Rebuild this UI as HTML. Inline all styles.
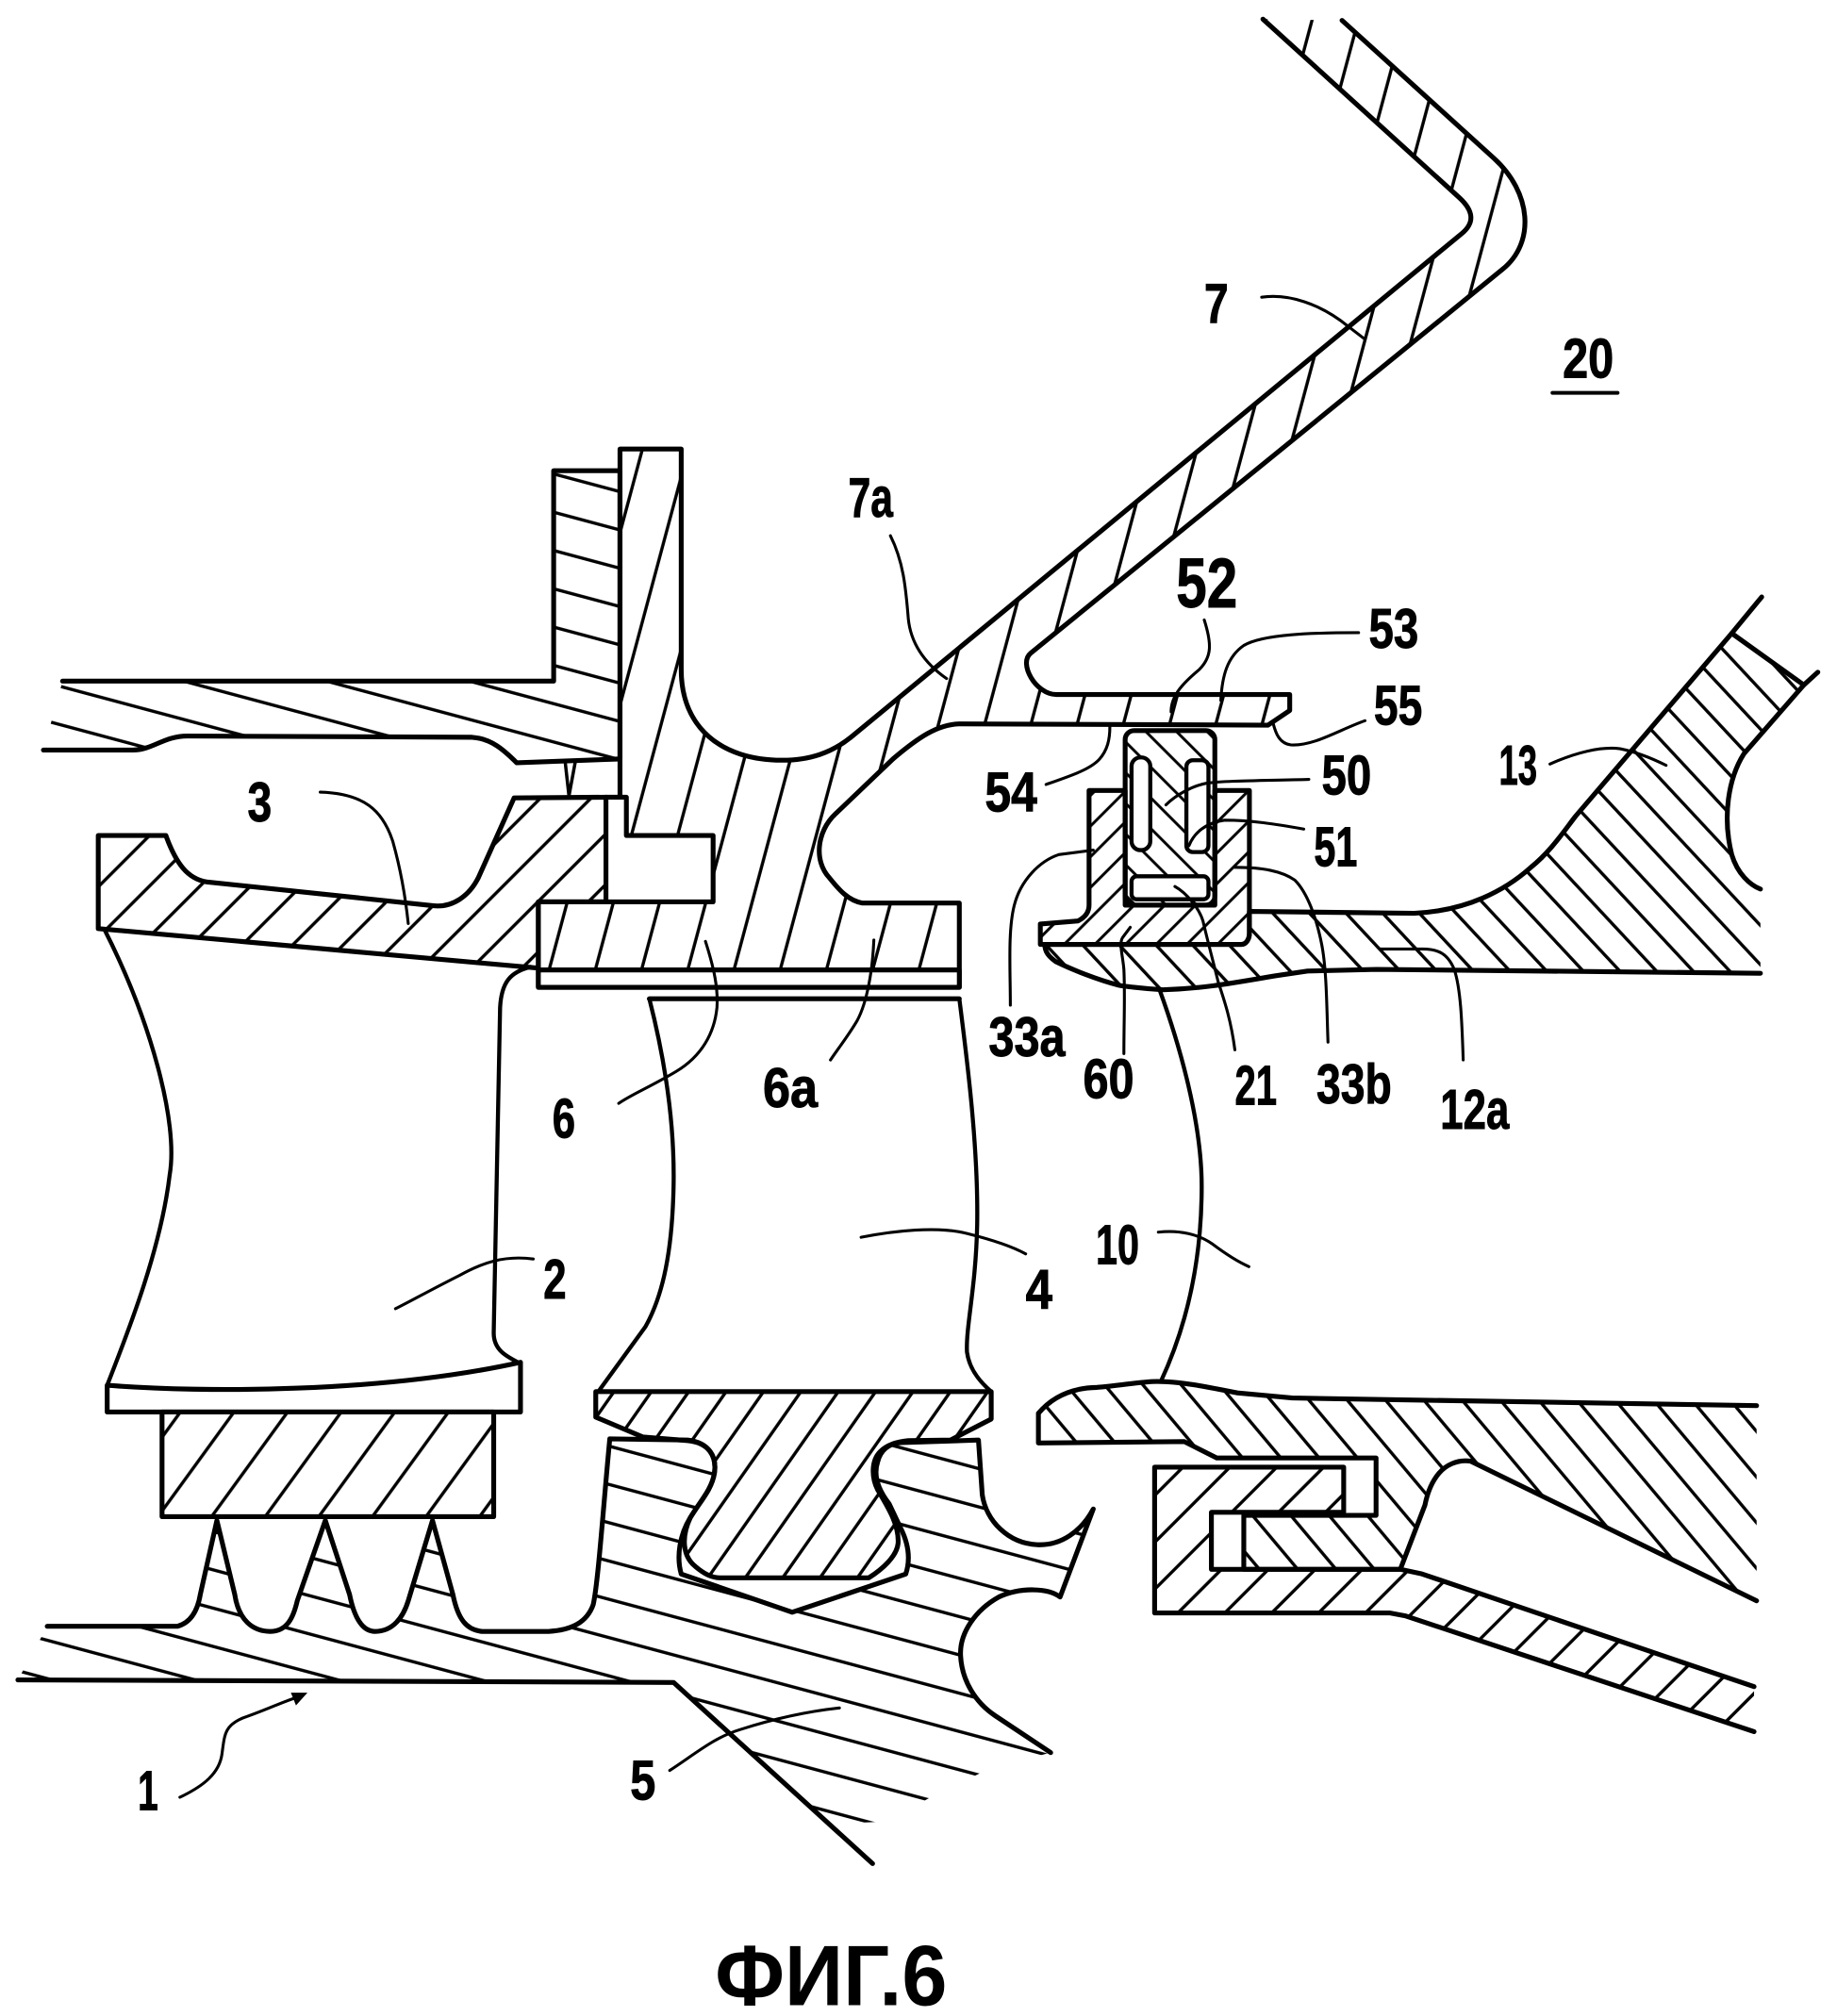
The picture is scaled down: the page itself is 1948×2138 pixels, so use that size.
<!DOCTYPE html>
<html>
<head>
<meta charset="utf-8">
<style>
html,body{margin:0;padding:0;background:#fff;overflow:hidden}
svg{display:block}
text{font-family:"Liberation Sans",Arial,sans-serif;font-weight:bold;fill:#000;stroke:#000;stroke-width:0.7}
</style>
</head>
<body>
<svg xmlns="http://www.w3.org/2000/svg" width="1948" height="2138" viewBox="0 0 1440 1580.5">
<defs>
<pattern id="p7" patternUnits="userSpaceOnUse" width="35" height="35" patternTransform="rotate(-75)"><rect x="0" y="16.3" width="35" height="2.5" fill="#000"/></pattern>
<pattern id="pL" patternUnits="userSpaceOnUse" width="29" height="29" patternTransform="rotate(15)"><rect x="0" y="13.3" width="29" height="2.5" fill="#000"/></pattern>
<pattern id="p3" patternUnits="userSpaceOnUse" width="28" height="28" patternTransform="rotate(-45)"><rect x="0" y="12.8" width="28" height="2.5" fill="#000"/></pattern>
<pattern id="p2" patternUnits="userSpaceOnUse" width="34" height="34" patternTransform="rotate(-54)"><rect x="0" y="15.8" width="34" height="2.5" fill="#000"/></pattern>
<pattern id="pD" patternUnits="userSpaceOnUse" width="29" height="29" patternTransform="rotate(15)"><rect x="0" y="13.3" width="29" height="2.5" fill="#000"/></pattern>
<pattern id="p4" patternUnits="userSpaceOnUse" width="24" height="24" patternTransform="rotate(-55)"><rect x="0" y="10.8" width="24" height="2.5" fill="#000"/></pattern>
<pattern id="pA" patternUnits="userSpaceOnUse" width="23" height="23" patternTransform="rotate(50)"><rect x="0" y="10.3" width="23" height="2.5" fill="#000"/></pattern>
<pattern id="pB" patternUnits="userSpaceOnUse" width="26" height="26" patternTransform="rotate(-45)"><rect x="0" y="11.8" width="26" height="2.5" fill="#000"/></pattern>
<pattern id="p12" patternUnits="userSpaceOnUse" width="21" height="21" patternTransform="rotate(47)"><rect x="0" y="9.3" width="21" height="2.5" fill="#000"/></pattern>
<pattern id="pH" patternUnits="userSpaceOnUse" width="17" height="17" patternTransform="rotate(-45)"><rect x="0" y="7.3" width="17" height="2.2" fill="#000"/></pattern>
<pattern id="p50" patternUnits="userSpaceOnUse" width="17" height="17" patternTransform="rotate(45)"><rect x="0" y="7.3" width="17" height="2.2" fill="#000"/></pattern>
</defs>

<g stroke="#000" stroke-width="3.8" stroke-linejoin="round" stroke-linecap="round">

<!-- left casing (upstream) -->
<path d="M49,534 L434,534 L434,369 L486,369 L486,595 L405,598 C395,588 385,579 370,578 L147,577 C128,577 120,588 104,588 L34,588 Z" fill="url(#pL)" stroke="none"/>
<path d="M49,534 L434,534 L434,369 L486,369 L486,595" fill="none"/>
<path d="M34,588 L104,588 C120,588 128,577 147,577 L370,578 C385,579 395,588 405,598 L486,595" fill="none"/>

<!-- body 7 / 7a / flange / platform 6 -->
<path d="M990,15 L1144,155 Q1161,170.6 1146,183 L667,578 C652,590 635,596 613,596 C565,596 534,570 534,525 L534,352 L486,352 L486,625 L491,625 L491,655 L559,655 L559,707 L422,707 L422,774 L752,774 L752,708 L676,708 C665,706 658,698 650,688 C638,675 640,652 655,638 L700,595 C720,578 735,568 752,567.5 L994,568.5 L1011,557 L1011,544.5 L828,544.5 C812,544.5 798,520 808,512 L1178,211 C1203.7,190 1200.6,150.9 1171,124 L1052,16" fill="url(#p7)"/>
<rect x="422" y="760.4" width="330" height="13.6" fill="#fff"/>
<line x1="475" y1="625" x2="486" y2="625"/>

<!-- part 3 -->
<path d="M77,655 L130,655 C138,677 147,689 162,691.4 L339,710 C355,712 368,702 375,688 L403,625.5 L475,625 L475,707 L422,707 L422,759 L77,728 Z" fill="url(#p3)"/>
<path d="M443,597 L446,624 L451,597" fill="none" stroke-width="2.6"/>

<!-- blade 2 -->
<path d="M82,729 C118,800 140,880 133,921 C126,980 100,1045 84,1086" fill="none" stroke-width="3.2"/>
<path d="M416,758 C400,762 393,770 392,790 L387,1045 C387,1058 396,1063 408,1069" fill="none" stroke-width="3.2"/>
<path d="M84,1086 C160,1092 300,1092 408,1068 L408,1107 L84,1107 Z" fill="#fff"/>
<rect x="127" y="1107" width="260" height="82" fill="url(#p2)"/>

<!-- disk -->
<path d="M37,1275 L139,1275 C150,1272 155,1262 157,1250 L170,1192 L184,1250 C187,1270 198,1279 212,1279 C225,1279 230,1268 233,1255 L255,1192 L274,1250 C278,1270 285,1279 294,1279 C308,1279 316,1268 320,1255 L339,1192 L355,1250 C359,1270 366,1278 378,1279 L430,1279 C448,1278 460,1272 465,1258 C469,1240 473,1180 478,1128 L539,1129 C556,1131 562,1142 560,1155 C558,1168 548,1178 541,1190 C533,1203 530,1220 534,1234 L621,1264 L710,1234 C714,1222 712,1210 706,1198 L697,1179 C690,1170 684,1158 688,1146 C690,1138 695,1132 706,1131 L767,1129 L770,1172 C773,1192 790,1210 813,1211 C832,1212 848,1200 857,1183 L831,1252 C822,1245 800,1244 783,1252 C765,1262 752,1280 753,1298 C754,1318 765,1335 780,1345 L823.6,1374 L775,1387 L735,1406 L695,1428 L650,1430 L528,1319 L14,1317 Z" fill="url(#pD)" stroke="none"/>
<path d="M37,1275 L139,1275 C150,1272 155,1262 157,1250 L170,1192 L184,1250 C187,1270 198,1279 212,1279 C225,1279 230,1268 233,1255 L255,1192 L274,1250 C278,1270 285,1279 294,1279 C308,1279 316,1268 320,1255 L339,1192 L355,1250 C359,1270 366,1278 378,1279 L430,1279 C448,1278 460,1272 465,1258 C469,1240 473,1180 478,1128 L539,1129 C556,1131 562,1142 560,1155 C558,1168 548,1178 541,1190 C533,1203 530,1220 534,1234 L621,1264 L710,1234 C714,1222 712,1210 706,1198 L697,1179 C690,1170 684,1158 688,1146 C690,1138 695,1132 706,1131 L767,1129 L770,1172 C773,1192 790,1210 813,1211 C832,1212 848,1200 857,1183 L831,1252 C822,1245 800,1244 783,1252 C765,1262 752,1280 753,1298 C754,1318 765,1335 780,1345 L823.6,1374" fill="none"/>
<path d="M14,1317 L528,1319 L684,1461" fill="none"/>

<!-- blade 4 root + platform -->
<path d="M467,1091 L777,1091 L777,1112.5 L745,1129 L712,1129.4 C705,1130 696,1132 690,1138 C683,1145 683,1158 688,1168 C695,1180 705,1195 704,1210 C703,1220 692,1230 681,1237 L565,1237 C558,1237 552,1234 545,1228 C535,1220 534,1205 541,1190 C548,1178 558,1168 560,1155 C562,1142 556,1131 539,1129.4 L504,1126.6 L467,1111 Z" fill="url(#p4)"/>

<!-- blade 4 airfoil -->
<path d="M509,783 L752,783" fill="none"/>
<path d="M509,783 C521,830 529,880 528,930 C527,980 520,1015 506,1040 L469,1091" fill="none" stroke-width="3.2"/>
<path d="M752,783 C758,830 767,900 766,960 C765,1010 757,1040 758,1060 C760,1075 770,1085 777,1091" fill="none" stroke-width="3.2"/>

<!-- blade 10 edge -->
<path d="M909,776 C925,820 942,880 942,930 C942,990 930,1040 910,1083" fill="none" stroke-width="3.2"/>

<!-- stator platform A -->
<path d="M1377,1255 L1152.7,1145.5 C1142,1144 1133,1149 1128,1155 C1122,1162 1119,1170 1117,1180 L1097.7,1230.3 L975,1230.3 L975,1188 L1078.7,1188 L1078.7,1143 L953.8,1143 L928.4,1130.2 L814,1131.3 L814,1108 C825,1095 840,1088 860,1087.7 C880,1086 895,1083 907,1083 C925,1083 945,1087 970,1092 L1013,1096 L1377,1102" fill="url(#pA)"/>

<!-- rotor seal B -->
<path d="M1375,1322.3 L1114.6,1233.9 L1097.7,1230.3 L949.6,1230.3 L949.6,1185.6 L1053.3,1185.6 L1053.3,1150.2 L905.1,1150.2 L905.1,1264.5 L1089.2,1264.5 L1102,1266.9 L1375,1357.6" fill="url(#pB)"/>

<!-- 12a / 13 -->
<path d="M1380,763 L1079,760 L1025,761.3 L1000,765 C970,770 945,775 911.6,776 C895,775 880,773 877,772.4 C860,768 840,760 827.8,754 C822,750 819,746 819,740.4 L973,740.4 C977,740.4 979.4,736 979.4,731.8 L979.4,714.5 L1108.6,716 C1150,714 1180,698 1200,680 C1215,668 1225,653 1235,640 L1357.5,496.5 L1414,537 L1367,591 C1355,610 1350,640 1357.5,670 C1362,685 1372,694 1380,697" fill="url(#p12)"/>
<path d="M1381,468 L1357.5,496.5 M1425,527 L1414,537" fill="none"/>

<!-- housing 33a/33b -->
<path d="M853.7,619.7 L882,619.7 L882,709.6 L952.3,709.6 L952.3,619.7 L979.4,619.7 L979.4,731.8 C979.4,736 977,740.4 973,740.4 L815.5,740.4 L815.5,724.4 L845,722 C851,719 853.7,715 853.7,709.6 Z" fill="url(#pH)"/>

<!-- seal 50 / 21 -->
<rect x="882" y="572.8" width="70.3" height="136.8" rx="7" fill="url(#p50)"/>
<rect x="887" y="593.8" width="14.7" height="72.7" rx="7" fill="#fff" stroke-width="3.2"/>
<rect x="930" y="596" width="17.3" height="72" rx="5" fill="#fff" stroke-width="3.2"/>
<rect x="887" y="687" width="60.3" height="18" rx="4" fill="#fff" stroke-width="3.2"/>
</g>

<!-- leader lines -->
<g stroke="#000" stroke-width="2.3" fill="none" stroke-linecap="round">
<path d="M251,621 C285,622 300,635 308,660 C315,685 318,705 320,724"/>
<path d="M698,420 C708,440 710,460 712,485 C714,505 725,520 742,532"/>
<path d="M989,233 C1010,230 1035,238 1057,256 L1070,266"/>
<path d="M944,486 C950,505 950,515 940,525 C928,535 918,545 918,558"/>
<path d="M1065,496 C1030,496 990,497 975,506 C962,515 958,530 957,549"/>
<path d="M1070,565 C1050,572 1030,585 1012,584 C1003,583 1000,575 998,567"/>
<path d="M820,615 C840,608 855,603 862,595 C868,588 870,580 870,570"/>
<path d="M1026,611 C990,612 960,612 946,614 C935,616 922,623 914,631"/>
<path d="M1022,650 C1000,646 980,643 960,643 C945,645 936,653 932,663"/>
<path d="M1215,599 C1235,590 1255,585 1270,587 C1285,590 1298,596 1306,600"/>
<path d="M792,788 C792,760 790,730 795,710 C800,690 815,675 830,670 L857,666.5"/>
<path d="M881,826 C881,800 882,780 881,760 C880,748 877,740 880,735 L886,727"/>
<path d="M968,823 C965,800 960,785 955,770 C950,750 946,735 943,722 C940,712 930,700 921,695"/>
<path d="M1041,817 C1040,790 1040,760 1036,740 C1032,720 1025,700 1015,690 C1005,683 990,680 968,680"/>
<path d="M1147,831 C1146,800 1145,775 1140,760 C1135,748 1128,744 1115,744 L1082,744"/>
<path d="M553,738 C560,760 563,775 562,790 C560,810 550,828 530,840 C510,852 495,858 485,865"/>
<path d="M685,737 C684,760 680,785 672,800 C665,812 657,822 651,831"/>
<path d="M418,987 C395,984 378,990 360,1000 C340,1010 322,1020 310,1026"/>
<path d="M675,970 C700,965 735,961 758,967 C778,972 795,978 804,983"/>
<path d="M908,966 C925,964 940,968 950,975 C962,984 972,990 979,993"/>
<path d="M141,1409 C160,1400 172,1390 174,1375 C176,1360 176,1353 190,1347 C210,1340 222,1334 232,1331"/>
<path d="M525,1388 C545,1375 560,1362 580,1356 C605,1348 630,1342 658,1339"/>
<line x1="1217" y1="308" x2="1268" y2="308" stroke-width="3"/>
</g>
<polygon points="241,1327 232,1337 228,1327" fill="#000"/>

<!-- labels -->
<g font-size="44">
<text x="194" y="644" textLength="19" lengthAdjust="spacingAndGlyphs">3</text>
<text x="665" y="405" textLength="35" lengthAdjust="spacingAndGlyphs">7a</text>
<text x="944" y="253" textLength="19" lengthAdjust="spacingAndGlyphs">7</text>
<text x="1225" y="296" textLength="40" lengthAdjust="spacingAndGlyphs">20</text>
<text x="922" y="476" font-size="55" textLength="48" lengthAdjust="spacingAndGlyphs">52</text>
<text x="1073" y="508" textLength="39" lengthAdjust="spacingAndGlyphs">53</text>
<text x="1077" y="568" textLength="38" lengthAdjust="spacingAndGlyphs">55</text>
<text x="772" y="636" textLength="41" lengthAdjust="spacingAndGlyphs">54</text>
<text x="1036" y="623" textLength="39" lengthAdjust="spacingAndGlyphs">50</text>
<text x="1030" y="679" textLength="34" lengthAdjust="spacingAndGlyphs">51</text>
<text x="1175" y="615" textLength="30" lengthAdjust="spacingAndGlyphs">13</text>
<text x="775" y="828" textLength="60" lengthAdjust="spacingAndGlyphs">33a</text>
<text x="849" y="861" textLength="40" lengthAdjust="spacingAndGlyphs">60</text>
<text x="968" y="866" textLength="33" lengthAdjust="spacingAndGlyphs">21</text>
<text x="1032" y="865" textLength="59" lengthAdjust="spacingAndGlyphs">33b</text>
<text x="1129" y="885" textLength="54" lengthAdjust="spacingAndGlyphs">12a</text>
<text x="433" y="892" textLength="18" lengthAdjust="spacingAndGlyphs">6</text>
<text x="598" y="868" textLength="43" lengthAdjust="spacingAndGlyphs">6a</text>
<text x="426" y="1018" textLength="18" lengthAdjust="spacingAndGlyphs">2</text>
<text x="804" y="1026" textLength="21" lengthAdjust="spacingAndGlyphs">4</text>
<text x="859" y="991" textLength="34" lengthAdjust="spacingAndGlyphs">10</text>
<text x="108" y="1419" textLength="16" lengthAdjust="spacingAndGlyphs">1</text>
<text x="494" y="1411" textLength="20" lengthAdjust="spacingAndGlyphs">5</text>
</g>
<text x="560.5" y="1572" font-size="67" textLength="182" lengthAdjust="spacingAndGlyphs" style="stroke-width:0">ФИГ.6</text>
</svg>
</body>
</html>
